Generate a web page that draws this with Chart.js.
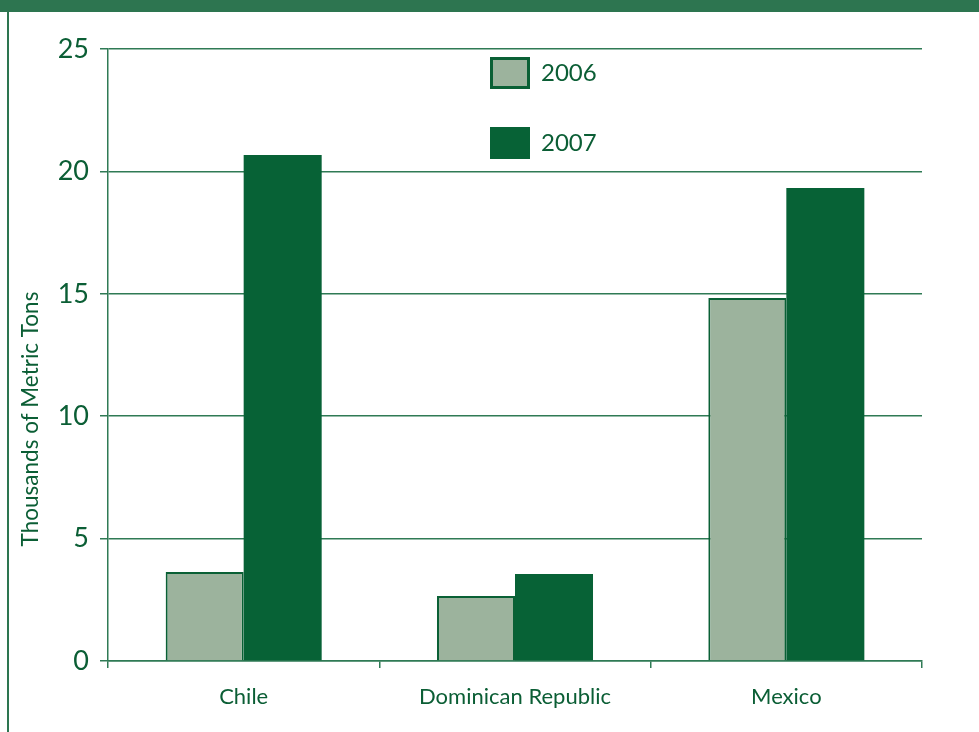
<!DOCTYPE html>
<html>
<head>
<meta charset="utf-8">
<script src="https://cdn.jsdelivr.net/npm/chart.js@4/dist/chart.umd.min.js"></script>
<style>
  html, body { margin: 0; padding: 0; background: #ffffff; }
  #wrap { position: relative; width: 979px; height: 732px; overflow: hidden; }
  #hdr { position: absolute; left: 0; top: 0; width: 979px; height: 12px; background: #2d7550; }
  #lborder { position: absolute; left: 7px; top: 12px; width: 2px; height: 720px; background: #2d7550; }
  canvas { position: absolute; left: 0; top: 0; }
  .leg { position: absolute; font-family: Lato, sans-serif; font-size: 24px; color: #0b5e35; }
  .sw { position: absolute; width: 40px; height: 32px; box-sizing: border-box; }
</style>
</head>
<body>
<div id="wrap">
  <canvas id="c" width="979" height="732"></canvas>
  <div id="hdr"></div>
  <div id="lborder"></div>
  <div id="legend"></div>
</div>
<script>
const categories = ["Chile", "Dominican Republic", "Mexico"];
const seriesNames = ["2006", "2007"];
const values2006 = [3.64, 2.66, 14.83];
const values2007 = [20.67, 3.55, 19.32];
const yTicks = [0, 5, 10, 15, 20, 25];
const yTitle = "Thousands of Metric Tons";

const darkGreen = "#076236";
const lightGreen = "#9cb39d";
const textGreen = "#0b5e35";
const lineGreen = "#2f7a55";

const datasets = [
  { label: seriesNames[0], data: values2006, backgroundColor: lightGreen, borderColor: "#0a6035", borderWidth: 2 },
  { label: seriesNames[1], data: values2007, backgroundColor: darkGreen, borderColor: darkGreen, borderWidth: 0 }
];

// HTML legend
const legendEl = document.getElementById("legend");
const legendPos = [{ top: 57 }, { top: 127 }];
datasets.forEach((ds, i) => {
  const sw = document.createElement("div");
  sw.className = "sw";
  sw.style.left = "490px";
  sw.style.top = legendPos[i].top + "px";
  sw.style.background = ds.backgroundColor;
  if (ds.borderWidth) sw.style.border = "3px solid " + ds.borderColor;
  legendEl.appendChild(sw);
  const t = document.createElement("div");
  t.className = "leg";
  t.style.left = "541px";
  t.style.top = (legendPos[i].top) + "px";
  t.textContent = ds.label;
  legendEl.appendChild(t);
});

const yTitlePlugin = {
  id: "yTitlePlugin",
  afterDraw(chart) {
    const ctx = chart.ctx;
    ctx.save();
    ctx.translate(31, 419);
    ctx.rotate(-Math.PI / 2);
    ctx.font = "22.5px Lato, sans-serif";
    ctx.fillStyle = textGreen;
    ctx.textAlign = "center";
    ctx.textBaseline = "middle";
    ctx.fillText(yTitle, 0, 0);
    ctx.restore();
  }
};

new Chart(document.getElementById("c"), {
  type: "bar",
  data: { labels: categories, datasets: datasets },
  plugins: [yTitlePlugin],
  options: {
    responsive: false,
    animation: false,
    layout: { padding: { top: 49, right: 57, left: 10, bottom: 0 } },
    plugins: { legend: { display: false }, tooltip: { enabled: false } },
    datasets: { bar: { barPercentage: 1.0, categoryPercentage: 0.575 } },
    scales: {
      x: {
        offset: true,
        grid: { display: true, drawOnChartArea: false, offset: true, color: lineGreen, lineWidth: 1.5, tickLength: 7 },
        border: { display: true, color: lineGreen, width: 1.5 },
        ticks: { color: textGreen, font: { family: "Lato, sans-serif", size: 22 }, padding: 16 },
        afterFit(scale) { scale.height = 732 - 661; }
      },
      y: {
        min: 0, max: 25,
        afterBuildTicks(scale) { scale.ticks = yTicks.map(v => ({ value: v })); },
        grid: { color: lineGreen, lineWidth: 1.5, tickLength: 8 },
        border: { display: true, color: lineGreen, width: 1.5 },
        ticks: { color: textGreen, font: { family: "Lato, sans-serif", size: 27 }, padding: 11 },
        afterFit(scale) { scale.width = 108 - 10; }
      }
    }
  }
});
</script>
</body>
</html>
